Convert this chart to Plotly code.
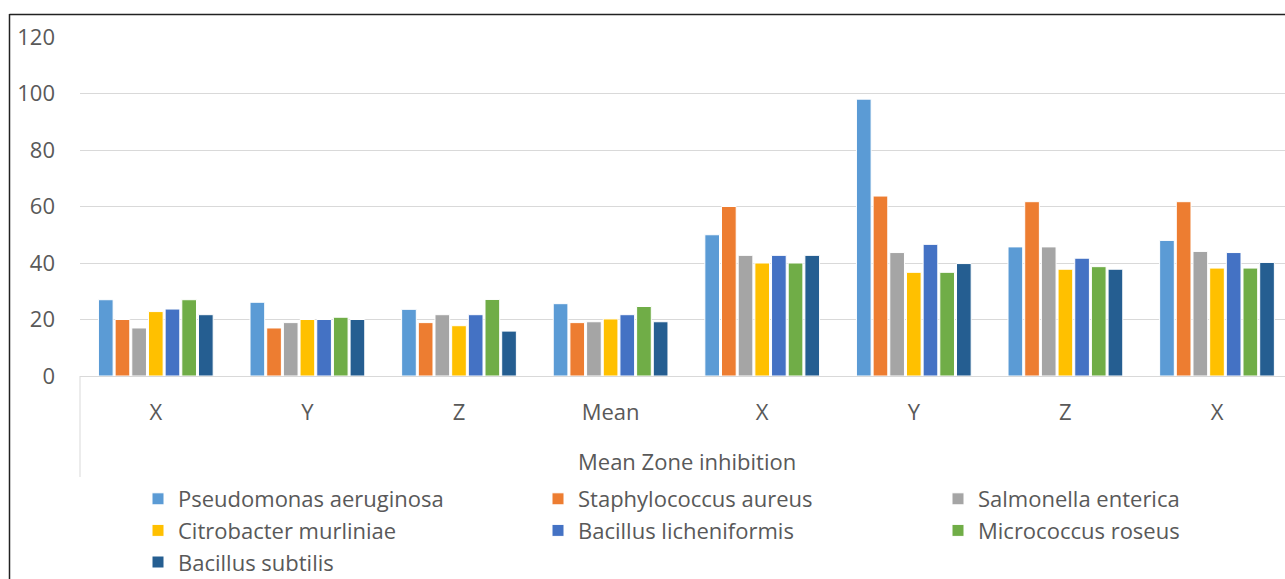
import plotly.graph_objects as go

# Sample labels along the category axis and the group they belong to
categories = ["X", "Y", "Z", "Mean", "X", "Y", "Z", "X"]
group_label = "Mean Zone inhibition"

# Zone of inhibition per organism, one value per category
pseudomonas = [27.0, 26.1, 23.6, 25.6, 50.0, 98.0, 45.7, 48.0]
staphylococcus = [20.0, 17.0, 18.9, 18.9, 60.0, 63.7, 61.7, 61.7]
salmonella = [17.0, 18.9, 21.7, 19.2, 42.7, 43.7, 45.7, 44.1]
citrobacter = [22.8, 20.0, 17.8, 20.2, 40.0, 36.7, 37.8, 38.2]
licheniformis = [23.7, 20.0, 21.7, 21.7, 42.7, 46.6, 41.7, 43.7]
micrococcus = [27.0, 20.8, 27.1, 24.6, 40.0, 36.7, 38.7, 38.2]
subtilis = [21.7, 20.0, 15.9, 19.2, 42.7, 39.8, 37.8, 40.2]

series_names = [
    "Pseudomonas aeruginosa",
    "Staphylococcus aureus",
    "Salmonella enterica",
    "Citrobacter murliniae",
    "Bacillus licheniformis",
    "Micrococcus roseus",
    "Bacillus subtilis",
]
series_values = [pseudomonas, staphylococcus, salmonella, citrobacter,
                 licheniformis, micrococcus, subtilis]
series_colors = ["#5B9BD5", "#ED7D31", "#A5A5A5", "#FFC000",
                 "#4472C4", "#70AD47", "#255E91"]

y_ticks = [0, 20, 40, 60, 80, 100, 120]

W, H = 1285, 579
L, T, B, R = 80, 37, 203, 0
plot_w = W - L - R
plot_h = H - T - B

def px_x(x):
    return (x - L) / plot_w

def px_y(y):
    return (H - B - y) / plot_h

positions = list(range(len(categories)))
text_color = "#595959"
font_family = "Open Sans, Arial, sans-serif"
font_size = 22

# legend laid out in three columns, filled row by row
legend_ids = ["legend", "legend2", "legend3"]
legend_left_px = [138, 538, 938]
legend_top_px = 478

fig = go.Figure()
for i, (name, vals, col) in enumerate(zip(series_names, series_values, series_colors)):
    fig.add_trace(go.Bar(
        x=positions, y=vals, name=name,
        marker=dict(color=col, line=dict(color="white", width=1)),
        legend=legend_ids[i % 3],
    ))

legend_common = dict(
    orientation="v", yanchor="top", xanchor="left",
    font=dict(family=font_family, size=font_size, color=text_color),
    traceorder="normal", itemclick=False, itemdoubleclick=False,
    bgcolor="rgba(0,0,0,0)", borderwidth=0,
)

fig.update_layout(
    width=W, height=H,
    margin=dict(l=L, r=R, t=T, b=B, pad=0, autoexpand=False),
    paper_bgcolor="white", plot_bgcolor="white",
    barmode="group", bargap=0.23, bargroupgap=0.12,
    font=dict(family=font_family, size=font_size, color=text_color),
    showlegend=True,
    legend=dict(x=px_x(legend_left_px[0]), y=px_y(legend_top_px), **legend_common),
    legend2=dict(x=px_x(legend_left_px[1]), y=px_y(legend_top_px), **legend_common),
    legend3=dict(x=px_x(legend_left_px[2]), y=px_y(legend_top_px), **legend_common),
    xaxis=dict(
        range=[-0.5, -0.5 + plot_w / 151.6],
        tickmode="array", tickvals=positions, ticktext=categories,
        showgrid=False, zeroline=False,
        showline=True, linecolor="#D9D9D9", linewidth=1,
        ticks="", ticklabelstandoff=17,
        tickfont=dict(family=font_family, size=font_size, color=text_color),
        fixedrange=True,
    ),
    yaxis=dict(
        range=[0, 120], tickmode="array", tickvals=y_ticks,
        showgrid=True, gridcolor="#D9D9D9", gridwidth=1,
        zeroline=False, showline=False, ticks="", ticklabelstandoff=24,
        tickfont=dict(family=font_family, size=font_size, color=text_color),
        fixedrange=True,
    ),
    annotations=[dict(
        text=group_label, xref="paper", yref="paper",
        x=px_x(687), y=px_y(461), xanchor="center", yanchor="middle",
        showarrow=False, font=dict(family=font_family, size=font_size, color=text_color),
    )],
    shapes=[
        # left edge of the category axis block
        dict(type="line", xref="paper", yref="paper",
             x0=px_x(80), x1=px_x(80), y0=px_y(376), y1=px_y(477),
             line=dict(color="#D9D9D9", width=1)),
        # outer chart frame (left and top edges)
        dict(type="line", xref="paper", yref="paper",
             x0=px_x(9.5), x1=px_x(9.5), y0=px_y(14), y1=px_y(H + 5),
             line=dict(color="#222222", width=1.5)),
        dict(type="line", xref="paper", yref="paper",
             x0=px_x(9.5), x1=px_x(W + 5), y0=px_y(14.5), y1=px_y(14.5),
             line=dict(color="#222222", width=1.5)),
    ],
)

fig.write_html("out.html", config={"displayModeBar": False})
